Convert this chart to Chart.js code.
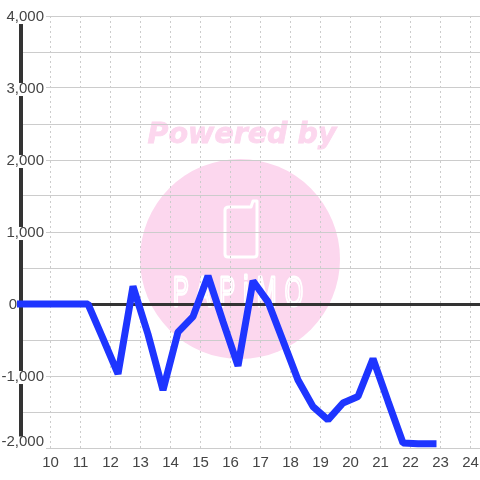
<!DOCTYPE html>
<html>
<head>
<meta charset="utf-8">
<script src="https://cdn.jsdelivr.net/npm/chart.js@4"></script>
<style>
  html, body { margin: 0; padding: 0; background: #fff; }
  canvas { display: block; }
</style>
</head>
<body>
<canvas id="netChart" width="480" height="480"></canvas>
<script>
const hours = [9, 9.75, 10.25, 10.75, 11.25, 11.75, 12.25, 12.75, 13.25, 13.75, 14.25, 14.75, 15.25, 15.75,
  16.25, 16.75, 17.25, 17.75, 18.25, 18.75, 19.25, 19.75, 20.25, 20.75, 21.25, 21.75, 22.25, 22.75];
const netValues = [0, 0, 0, 0, 0, -480, -970, 245, -420, -1195, -390, -175, 390, -245,
  -860, 320, 30, -510, -1055, -1425, -1610, -1375, -1285, -760, -1350, -1930, -1940, -1940];

const pink = "#fcd7ee";

// Watermark sits behind the plot, same as the image background in the original
const watermark = {
  id: "watermark",
  beforeDraw(chart) {
    const c = chart.ctx;
    c.save();
    c.fillStyle = pink;
    c.beginPath();
    c.arc(240, 259, 100, 0, Math.PI * 2);
    c.fill();

    c.font = "italic bold 28.5px 'DejaVu Sans'";
    c.textAlign = "center";
    c.textBaseline = "middle";
    c.strokeStyle = pink;
    c.lineWidth = 0.8;
    c.fillText("Powered by", 242, 136);
    c.strokeText("Powered by", 242, 136);

    // phone icon
    c.strokeStyle = "#fff";
    c.lineWidth = 3;
    c.lineJoin = "round";
    c.beginPath();
    c.moveTo(229, 207);
    c.lineTo(251, 207);
    c.lineTo(253, 201);
    c.lineTo(257, 201);
    c.lineTo(257, 254);
    c.quadraticCurveTo(257, 257, 254, 257);
    c.lineTo(228, 257);
    c.quadraticCurveTo(225, 257, 225, 254);
    c.lineTo(225, 210);
    c.quadraticCurveTo(225, 207, 229, 207);
    c.stroke();

    c.translate(173, 306);
    c.scale(0.55, 1);
    c.lineWidth = 3;
    c.font = "43px 'Liberation Sans'";
    c.letterSpacing = "15px";
    c.textAlign = "left";
    c.textBaseline = "alphabetic";
    c.strokeText("PAPiMO", 0, 0);
    c.restore();

    // tick labels sit a little off their ticks in the reference
    chart.scales.y.getLabelItems().forEach((item) => {
      const box = item.options.backdrop;
      let dy = 1;
      if (item.label === "-2,000") dy = -6;
      item.textOffset += dy;
      if (item.label === "0") {
        item.options.translation[0] -= 27;
      }
      if (box) {
        box.top += item.label === "-2,000" ? -5 : 1.5;
        if (item.label === "0") box.left -= 27;
      }
    });
  }
};

new Chart(document.getElementById("netChart"), {
  type: "scatter",
  data: {
    datasets: [{
      data: hours.map((h, i) => ({ x: h, y: netValues[i] })),
      showLine: true,
      borderColor: "#1e35ff",
      borderWidth: 7,
      borderCapStyle: "square",
      borderJoinStyle: "bevel",
      pointRadius: 0,
      tension: 0,
      clip: false
    }]
  },
  plugins: [watermark],
  options: {
    responsive: false,
    animation: false,
    layout: { padding: { top: 16, left: 20.5, right: 0, bottom: 0 } },
    plugins: { legend: { display: false }, tooltip: { enabled: false } },
    scales: {
      x: {
        type: "linear",
        min: 9,
        max: 24.3167,
        afterFit(scale) {
          scale.height = 32;
          scale.paddingLeft = 0;
          scale.paddingRight = 0;
        },
        border: { display: false, dash: [2, 3] },
        grid: { color: "#ccc", lineWidth: 1, drawTicks: false },
        ticks: {
          stepSize: 1,
          includeBounds: false,
          autoSkip: false,
          maxRotation: 0,
          padding: 6,
          color: "#444",
          font: { family: "'Liberation Sans'", size: 15 },
          callback: (v) => (v === 9 ? "" : String(v))
        }
      },
      y: {
        min: -2000,
        max: 4000,
        afterFit(scale) {
          scale.width = 0;
          scale.paddingTop = 0;
          scale.paddingBottom = 0;
        },
        border: { color: "#333", width: 4 },
        grid: {
          drawTicks: false,
          color: (ctx) => (ctx.tick.value === 0 ? "#333" : "#ccc"),
          lineWidth: (ctx) => (ctx.tick.value === 0 ? 3 : 1)
        },
        ticks: {
          stepSize: 500,
          autoSkip: false,
          mirror: true,
          crossAlign: "far",
          padding: -19,
          color: "#444",
          font: { family: "'Liberation Sans'", size: 15, lineHeight: 0.87 },
          showLabelBackdrop: (ctx) => ctx.tick.value % 1000 === 0,
          backdropColor: "#fff",
          backdropPadding: { top: 0, bottom: 0, left: 2, right: 2 },
          callback: (v) => (v % 1000 === 0 ? v.toLocaleString("en-US") : "")
        }
      }
    }
  }
});
</script>
</body>
</html>
